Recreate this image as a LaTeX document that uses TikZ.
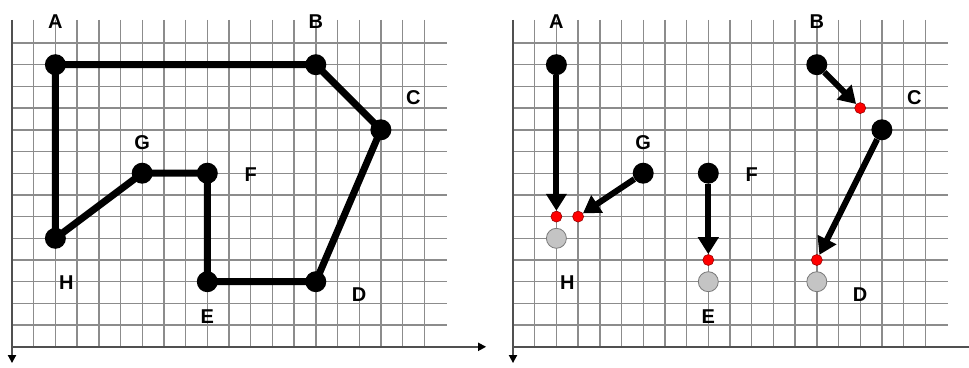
\documentclass[tikz,border=0pt]{standalone}
\usepackage{fontspec}
\setmainfont{Liberation Sans}
\usetikzlibrary{arrows.meta}
\definecolor{gridgray}{HTML}{8C8C8C}
\definecolor{axisgray}{HTML}{505050}
\definecolor{ghost}{HTML}{C4C4C4}
\definecolor{ghostline}{HTML}{7A7A7A}
\tikzset{
  gridline/.style={draw=gridgray, line width=1.4pt},
  axisline/.style={draw=axisgray, line width=1.8pt},
  axisarrow/.style={-{Triangle[length=8pt,width=8pt,color=black]}},
  bdot/.style={circle, fill=black, minimum size=21pt, inner sep=0pt},
  gdot/.style={circle, fill=ghost, draw=ghostline, line width=0.8pt, minimum size=20pt, inner sep=0pt},
  rdot/.style={circle, fill=red, draw=red!60!black, line width=0.6pt, minimum size=11pt, inner sep=0pt},
  poly/.style={line width=7pt, line join=round, line cap=round},
  mover/.style={line width=6pt, -{Triangle[length=17pt,width=20pt]}},
  lbl/.style={font=\bfseries\fontsize{20}{20}\selectfont, inner sep=0pt, text height=14.3pt, text depth=0pt, anchor=center},
}
\newcommand{\mygridlines}{%
  \foreach \i in {1,...,19} \draw[gridline] (\i,-1.06) -- (\i,14);
  \foreach \j in {0,...,13} \draw[gridline] (0,\j) -- (20.05,\j);
}
\begin{document}
\begin{tikzpicture}[x=1pt, y=-1pt]
\useasboundingbox (0,0) rectangle (969,367);
\fill[white] (0,0) rectangle (969,367);
% ---------------- left grid ----------------
\begin{scope}[shift={(12,43)}, x=21.7pt, y=-21.7pt]
  \mygridlines
  \coordinate (lxend) at (21.85,14);
  \coordinate (lyend) at (0,14.75);
  \coordinate (lorig) at (0,14);
  \coordinate (ltop) at (0,-1.06);
  \draw[axisline, axisarrow] (lorig) -- (lxend);
  \draw[axisline, axisarrow] (ltop) -- (lyend);
  \node[bdot] (lA) at (2,1) {};
  \node[bdot] (lB) at (14,1) {};
  \node[bdot] (lC) at (17,4) {};
  \node[bdot] (lD) at (14,11) {};
  \node[bdot] (lE) at (9,11) {};
  \node[bdot] (lF) at (9,6) {};
  \node[bdot] (lG) at (6,6) {};
  \node[bdot] (lH) at (2,9) {};
  \draw[poly] (lA.center) -- (lB.center) -- (lC.center) -- (lD.center) -- (lE.center) -- (lF.center) -- (lG.center) -- (lH.center) -- cycle;
  \node[lbl] (lAl) at (2,-1.0) {A};
  \node[lbl] (lBl) at (14,-1.0) {B};
  \node[lbl] (lCl) at (18.5,2.5) {C};
  \node[lbl] (lDl) at (16,11.6) {D};
  \node[lbl] (lEl) at (9,12.58) {E};
  \node[lbl] (lFl) at (11,6.04) {F};
  \node[lbl] (lGl) at (6,4.56) {G};
  \node[lbl] (lHl) at (2.5,11.05) {H};
\end{scope}
% ---------------- right grid ----------------
\begin{scope}[shift={(513,43)}, x=21.7pt, y=-21.7pt]
  \mygridlines
  \coordinate (rxend) at (21.1,14);
  \coordinate (ryend) at (0,14.75);
  \coordinate (rorig) at (0,14);
  \coordinate (rtop) at (0,-1.06);
  \draw[axisline] (rorig) -- (rxend);
  \draw[axisline, axisarrow] (rtop) -- (ryend);
  \node[bdot] (rA) at (2,1) {};
  \node[bdot] (rB) at (14,1) {};
  \node[bdot] (rC) at (17,4) {};
  \node[bdot] (rF) at (9,6) {};
  \node[bdot] (rG) at (6,6) {};
  \node[gdot] (rH) at (2,9) {};
  \node[gdot] (rE) at (9,11) {};
  \node[gdot] (rD) at (14,11) {};
  \node[rdot] (pA) at (2,8) {};
  \node[rdot] (pG) at (3,8) {};
  \node[rdot] (pF) at (9,10) {};
  \node[rdot] (pB) at (16,3) {};
  \node[rdot] (pC) at (14,10) {};
  \draw[mover] (rA) -- (pA);
  \draw[mover] (rG) -- (pG);
  \draw[mover] (rF) -- (pF);
  \draw[mover] (rB) -- (pB);
  \draw[mover] (rC) -- (pC);
  \node[lbl] (rAl) at (2,-1.0) {A};
  \node[lbl] (rBl) at (14,-1.0) {B};
  \node[lbl] (rCl) at (18.5,2.5) {C};
  \node[lbl] (rDl) at (16,11.6) {D};
  \node[lbl] (rEl) at (9,12.58) {E};
  \node[lbl] (rFl) at (11,6.04) {F};
  \node[lbl] (rGl) at (6,4.56) {G};
  \node[lbl] (rHl) at (2.5,11.05) {H};
\end{scope}
\end{tikzpicture}
\end{document}
